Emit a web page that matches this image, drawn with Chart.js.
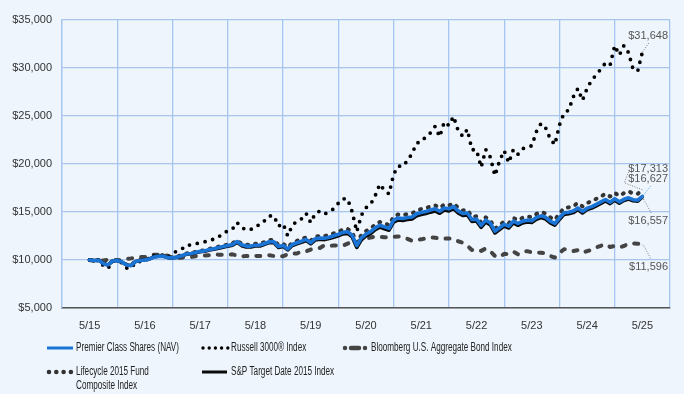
<!DOCTYPE html>
<html>
<head>
<meta charset="utf-8">
<script src="https://cdn.jsdelivr.net/npm/chart.js@4.4.1/dist/chart.umd.min.js"></script>
<style>
    html, body { margin: 0; padding: 0; background: #eef5fc; }
    #wrap { position: relative; width: 684px; height: 394px; }
</style>
</head>
<body>
<div id="wrap"><canvas id="growth-chart" width="684" height="394"></canvas></div>
<script>
// growth of $10,000, month ends 5/15 .. 5/25
const yearLabels = ['5/15', '5/16', '5/17', '5/18', '5/19', '5/20', '5/21', '5/22', '5/23', '5/24', '5/25'];
const monthIndex = Array.from({ length: 121 }, (_, i) => i);

const premierShares = [
    10000, 9950, 9980, 9620, 9480, 9900, 9960, 9800,
    9480, 9420, 9850, 9950, 10000, 10100, 10320, 10380, 10400, 10250, 10220, 10300,
    10450, 10620, 10680, 10780, 10900, 10950, 11100, 11180, 11300, 11400, 11520, 11620,
    11920, 11580, 11450, 11450, 11540, 11560, 11720, 11900, 11900, 11400, 11520, 11150,
    11620, 11800, 11960, 12150, 11800, 12220, 12280, 12260, 12370, 12520, 12680, 12880,
    12950, 12580, 11500, 12300, 12700, 12950, 13350, 13620, 13450, 13300, 14150, 14380,
    14330, 14420, 14480, 14820, 14950, 15050, 15200, 15330, 15080, 15420, 15330, 15560,
    15120, 14850, 14900, 14220, 14260, 13600, 14150, 13850, 13000, 13350, 13720, 13520,
    14050, 13800, 14050, 14150, 14100, 14420, 14600, 14450, 14050, 13800, 14400, 14920,
    14980, 15100, 15420, 15060, 15400, 15560, 15800, 16050, 16300, 16020, 16380, 16060,
    16320, 16480, 16280, 16230, 16627
];
const spTarget2015 = [
    10000, 9960, 9990, 9630, 9480, 9890, 9950, 9790,
    9480, 9430, 9860, 9960, 10010, 10110, 10330, 10380, 10390, 10240, 10200, 10280,
    10420, 10590, 10650, 10740, 10860, 10900, 11040, 11120, 11230, 11320, 11440, 11540,
    11830, 11490, 11360, 11360, 11450, 11460, 11620, 11800, 11800, 11300, 11410, 11050,
    11510, 11690, 11850, 12030, 11680, 12090, 12150, 12120, 12230, 12370, 12520, 12710,
    12770, 12400, 11300, 12100, 12500, 12750, 13150, 13420, 13250, 13100, 13940, 14170,
    14120, 14210, 14270, 14600, 14730, 14830, 14980, 15110, 14860, 15200, 15110, 15340,
    14910, 14640, 14690, 14010, 14050, 13400, 13950, 13650, 12810, 13160, 13530, 13330,
    13860, 13610, 13860, 13960, 13910, 14230, 14410, 14260, 13870, 13620, 14220, 14750,
    14810, 14930, 15250, 14890, 15240, 15400, 15640, 15890, 16150, 15870, 16230, 15920,
    16190, 16350, 16160, 16120, 16557
];
const lifecycleComposite = [
    10000, 9960, 9990, 9630, 9500, 9920, 9990, 9830,
    9510, 9460, 9890, 10000, 10050, 10150, 10380, 10440, 10460, 10310, 10280, 10360,
    10510, 10680, 10740, 10850, 10970, 11020, 11180, 11260, 11390, 11490, 11620, 11730,
    12040, 11700, 11580, 11590, 11690, 11710, 11880, 12070, 12080, 11570, 11690, 11320,
    11800, 11990, 12160, 12360, 12010, 12440, 12510, 12500, 12620, 12780, 12950, 13160,
    13240, 12870, 11780, 12610, 13010, 13270, 13690, 13970, 13800, 13650, 14510, 14750,
    14690, 14780, 14840, 15180, 15310, 15410, 15560, 15690, 15430, 15780, 15680, 15900,
    15450, 15170, 15220, 14520, 14550, 13880, 14440, 14130, 13270, 13630, 14010, 13820,
    14380, 14140, 14400, 14510, 14470, 14800, 14990, 14840, 14440, 14190, 14840, 15410,
    15480, 15610, 15940, 15580, 15940, 16110, 16370, 16630, 16890, 16610, 16990, 16680,
    16960, 17140, 16930, 16900, 17313
];
const russell3000 = [
    10000, 9840, 10000, 9400, 9120, 9880, 9920, 9700,
    9160, 9150, 9790, 9850, 10030, 10050, 10450, 10480, 10500, 10270, 10720, 10930,
    11140, 11550, 11560, 11690, 11780, 11890, 12120, 12140, 12430, 12700, 13080, 13210,
    13910, 13400, 13130, 13180, 13550, 13650, 14100, 14580, 14610, 13530, 13800, 12520,
    13600, 14070, 14290, 14860, 13890, 14870, 15090, 14790, 15030, 15340, 15920, 16380,
    16370, 15020, 12950, 14660, 15450, 15800, 16700, 17900, 17260, 16880, 18940, 19790,
    19750, 20360, 21090, 22190, 22300, 22860, 23250, 23920, 22840, 24390, 24020, 24960,
    23490, 22880, 23610, 21490, 21470, 19660, 21510, 20710, 18790, 20330, 21390, 20130,
    21520, 21020, 21590, 21800, 21890, 23380, 24220, 23760, 22620, 22010, 24060, 25330,
    25610, 26990, 27860, 26630, 27880, 28740, 29290, 29900, 30530, 30310, 32340, 31340,
    32340, 31600, 29850, 29700, 31648
];
const bloombergAgg = [
    10000, 9890, 9960, 9950, 10020, 10020, 9990, 9960,
    10100, 10170, 10260, 10300, 10300, 10480, 10550, 10540, 10530, 10450, 10200, 10220,
    10240, 10310, 10310, 10390, 10470, 10460, 10510, 10600, 10550, 10550, 10540, 10590,
    10470, 10370, 10430, 10350, 10430, 10420, 10420, 10490, 10420, 10340, 10400, 10590,
    10690, 10680, 10900, 10900, 11090, 11230, 11250, 11540, 11480, 11510, 11500, 11490,
    11700, 11920, 11850, 12100, 12250, 12330, 12450, 12400, 12380, 12330, 12420, 12450,
    12380, 12200, 12000, 12100, 12150, 12250, 12350, 12330, 12220, 12220, 12250, 12200,
    11950, 11800, 11480, 11050, 11100, 10950, 11200, 10900, 10420, 10300, 10650, 10600,
    10870, 10590, 10860, 10920, 10800, 10770, 10760, 10690, 10420, 10250, 10720, 11130,
    11080, 10930, 11030, 10750, 10930, 11060, 11310, 11480, 11640, 11350, 11480, 11320,
    11460, 11700, 11710, 11700, 11596
];
const endValueLabels = ['$16,627', '$16,557', '$17,313', '$31,648', '$11,596'];

const growthChartHandler = function () {
    const gridBlue = '#a6c6f0';
    const tickFont = { family: '"Liberation Sans", Arial, sans-serif', size: 11 };
    const legendFont = '12px "Liberation Sans Narrow", "Arial Narrow", "Liberation Sans", Arial, sans-serif';

    // offsets of the value notes and their leader lines from each series' last point
    const endNotes = [
        { ds: 3, ty: -16, path: [[7, -10]], color: '#777' },
        { ds: 2, ty: -21, path: [[-18, -7], [-13, -20]], color: '#777' },
        { ds: 0, ty: -17, path: [[9, -11]], color: '#4d9ff0' },
        { ds: 1, ty: 24, path: [[9, 16]], color: '#777' },
        { ds: 4, ty: 22, path: [[2, 2], [9, 15]], color: '#777' }
    ];

    const endNotePlugin = {
        id: 'endNotes',
        afterDatasetsDraw(chart) {
            const ctx = chart.ctx;
            const right = chart.chartArea.right - 2;
            ctx.save();
            endNotes.forEach(note => {
                const pts = chart.getDatasetMeta(note.ds).data;
                const p = pts[pts.length - 1];
                ctx.beginPath();
                ctx.setLineDash([1, 1.5]);
                ctx.lineWidth = 1;
                ctx.strokeStyle = note.color;
                ctx.moveTo(p.x, p.y);
                note.path.forEach(([dx, dy]) => ctx.lineTo(p.x + dx, p.y + dy));
                ctx.stroke();
                ctx.setLineDash([]);
                ctx.font = '11px "Liberation Sans", Arial, sans-serif';
                ctx.fillStyle = '#555';
                ctx.textAlign = 'right';
                ctx.textBaseline = 'middle';
                ctx.fillText(endValueLabels[note.ds], right, p.y + note.ty);
            });
            ctx.restore();
        }
    };

    const legendRows = [
        { ds: 0, x0: 47, x1: 73, y: 348, tx: 76, dash: [], w: 3, lines: ['Premier Class Shares (NAV)'] },
        { ds: 3, x0: 203, x1: 228, y: 348, tx: 231, dash: [0, 6.2], w: 3.4, lines: ['Russell 3000® Index'] },
        { ds: 4, x0: 345, x1: 366, y: 348, tx: 371, dash: [0, 6, 8, 6], w: 4.5, lines: ['Bloomberg U.S. Aggregate Bond Index'] },
        { ds: 2, x0: 49, x1: 71, y: 372, tx: 76, dash: [0, 7.3], w: 4.6, lines: ['Lifecycle 2015 Fund', 'Composite Index'] },
        { ds: 1, x0: 202, x1: 227, y: 372, tx: 231, dash: [], w: 3, lines: ['S&P Target Date 2015 Index'] }
    ];

    const legendPlugin = {
        id: 'bottomLegend',
        afterDraw(chart) {
            const ctx = chart.ctx;
            ctx.save();
            ctx.font = legendFont;
            const sx = Math.min(1, 103 / ctx.measureText('Premier Class Shares (NAV)').width);
            legendRows.forEach(row => {
                const ds = chart.data.datasets[row.ds];
                ctx.beginPath();
                ctx.setLineDash(row.dash);
                ctx.lineCap = row.dash.length ? 'round' : 'butt';
                ctx.lineWidth = row.w;
                ctx.strokeStyle = ds.borderColor;
                ctx.moveTo(row.x0, row.y);
                ctx.lineTo(row.x1, row.y);
                ctx.stroke();
                ctx.setLineDash([]);
                ctx.fillStyle = '#222';
                ctx.textAlign = 'left';
                ctx.textBaseline = 'middle';
                row.lines.forEach((txt, i) => {
                    ctx.save();
                    ctx.translate(row.tx, row.y + i * 14);
                    ctx.scale(sx, 1);
                    ctx.fillText(txt, 0, 0);
                    ctx.restore();
                });
            });
            ctx.restore();
        }
    };

    const lineSet = (label, data, color, width, dash) => ({
        label: label,
        data: data,
        borderColor: color,
        borderWidth: width,
        borderDash: dash,
        borderCapStyle: 'round',
        borderJoinStyle: 'round',
        pointRadius: 0,
        tension: 0,
        fill: false
    });

    this.draw = function () {
        new Chart('growth-chart', {
            type: 'line',
            data: {
                labels: monthIndex,
                datasets: [
                    lineSet('Premier Class Shares (NAV)', premierShares, '#1a74d6', 3.6, []),
                    lineSet('S&P Target Date 2015 Index', spTarget2015, '#0a0a0a', 3.5, []),
                    lineSet('Lifecycle 2015 Fund Composite Index', lifecycleComposite, '#333333', 4, [1, 7]),
                    lineSet('Russell 3000® Index', russell3000, '#000000', 3.8, [0, 8]),
                    lineSet('Bloomberg U.S. Aggregate Bond Index', bloombergAgg, '#444444', 4, [4, 9])
                ]
            },
            options: {
                responsive: false,
                animation: false,
                devicePixelRatio: 1,
                layout: { padding: { top: 20, right: 14, bottom: 56, left: 0 } },
                plugins: { legend: { display: false }, tooltip: { enabled: false } },
                scales: {
                    x: {
                        type: 'linear',
                        min: -6,
                        max: 126,
                        afterBuildTicks: scale => {
                            scale.ticks = yearLabels.map((_, i) => ({ value: i * 12 }));
                        },
                        afterFit: scale => { scale.height = 30; },
                        grid: { offset: true, color: gridBlue, lineWidth: 1.3, drawTicks: false },
                        border: { display: true, color: '#555', width: 1.5 },
                        ticks: {
                            autoSkip: false,
                            maxRotation: 0,
                            padding: 11,
                            color: '#333',
                            font: tickFont,
                            callback: (value, index) => yearLabels[index]
                        }
                    },
                    y: {
                        min: 5000,
                        max: 35000,
                        afterFit: scale => { scale.width = 62; },
                        grid: { color: gridBlue, lineWidth: 1.2, drawTicks: false },
                        border: { display: true, color: gridBlue, width: 1.3 },
                        ticks: {
                            stepSize: 5000,
                            padding: 10,
                            color: '#333',
                            font: tickFont,
                            callback: value => '$' + value.toLocaleString('en-US')
                        }
                    }
                }
            },
            plugins: [endNotePlugin, legendPlugin]
        });
    };
};

const growthChart = new growthChartHandler();
growthChart.draw();
</script>
</body>
</html>
